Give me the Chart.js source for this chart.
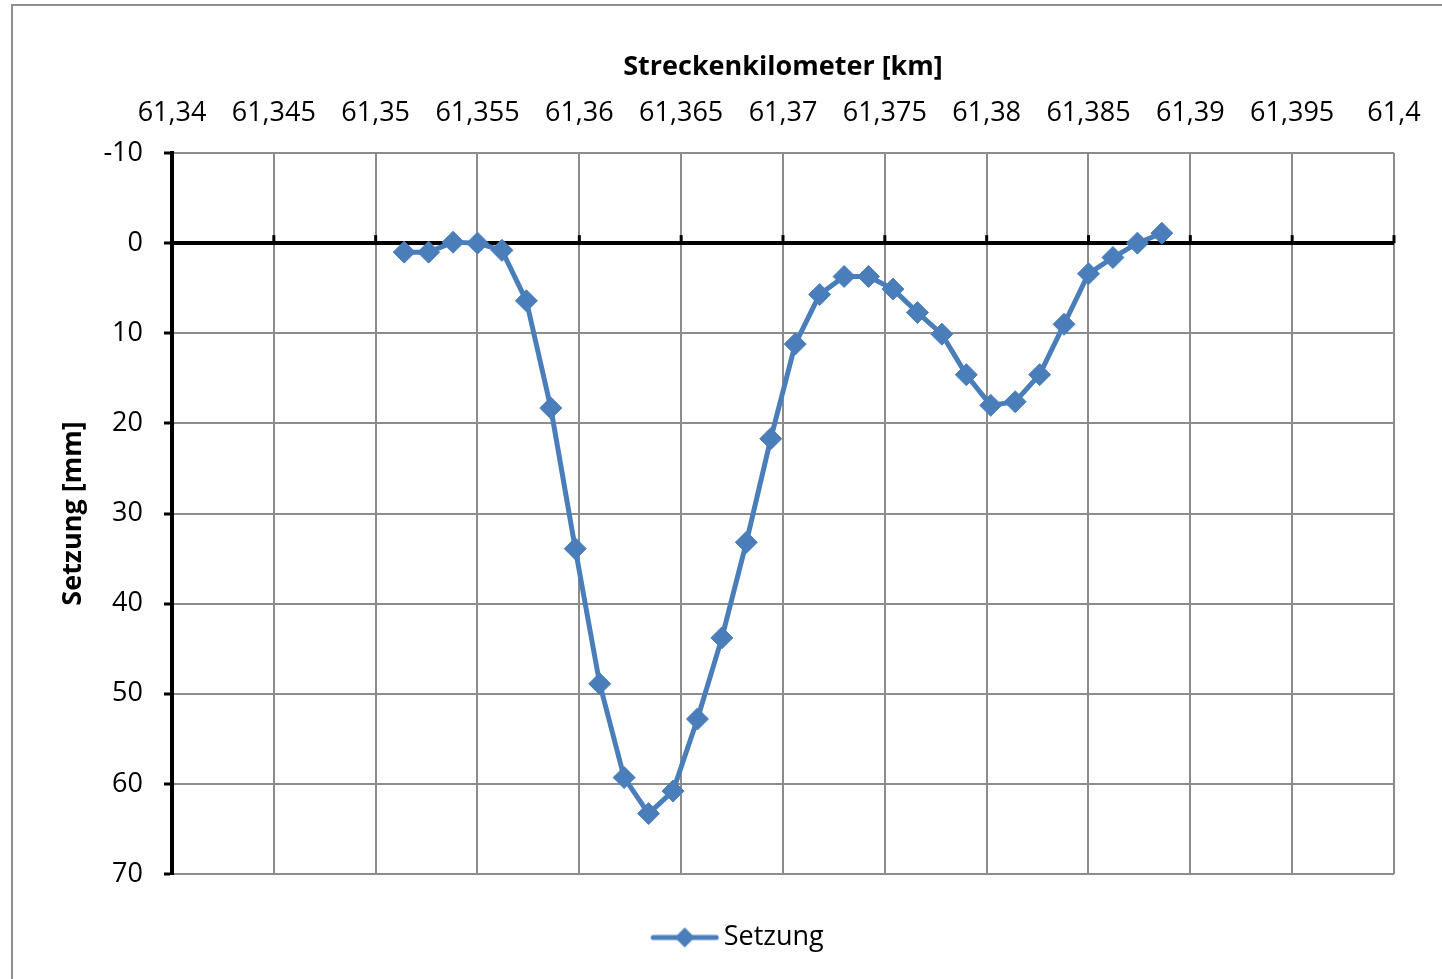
<!DOCTYPE html>
<html>
<head>
<meta charset="utf-8">
<script src="https://cdn.jsdelivr.net/npm/chart.js@4/dist/chart.umd.min.js"></script>
<style>
  html, body { margin: 0; padding: 0; background: #fff; overflow: hidden; }
  #rahmen { position: absolute; left: 11px; top: 4px; width: 1600px; height: 1200px; border: 2px solid #8e8e8e; }
  #grafik { position: absolute; left: 0; top: 0; }
</style>
</head>
<body>
<div id="rahmen"></div>
<canvas id="grafik" width="1442" height="961"></canvas>
<script>
const KILOMETER = [61.3514, 61.3526, 61.3538, 61.355, 61.3562, 61.3574, 61.3586, 61.3598,
  61.361, 61.3622, 61.3634, 61.3646, 61.3658, 61.367, 61.3682, 61.3694,
  61.3706, 61.3718, 61.373, 61.3742, 61.3754, 61.3766, 61.3778, 61.379,
  61.3802, 61.3814, 61.3826, 61.3838, 61.385, 61.3862, 61.3874, 61.3886];
const SETZUNG = [1.0, 1.0, -0.1, 0.0, 0.8, 6.4, 18.3, 33.9,
  48.9, 59.3, 63.3, 60.8, 52.8, 43.8, 33.2, 21.7,
  11.2, 5.7, 3.7, 3.7, 5.1, 7.7, 10.1, 14.6,
  18.0, 17.6, 14.6, 9.0, 3.4, 1.6, 0.0, -1.1];
const X_BEREICH = [61.34, 61.4];
const Y_BEREICH = [-10, 70];

const FARBE = '#4a7ebb';
const GITTER = '#8c8c8c';
const SCHRIFT = '"Open Sans", sans-serif';

// Legendensymbol: Linie mit Raute (breiter als die Box, damit der Text naeher rueckt)
function legendenSymbol() {
  const c = document.createElement('canvas');
  c.width = 150; c.height = 24;
  const g = c.getContext('2d');
  g.strokeStyle = FARBE;
  g.lineWidth = 5;
  g.lineCap = 'round';
  g.beginPath();
  g.moveTo(82, 12); g.lineTo(145, 12);
  g.stroke();
  g.fillStyle = FARBE;
  g.beginPath();
  g.moveTo(113.5, 2); g.lineTo(123.5, 12); g.lineTo(113.5, 22); g.lineTo(103.5, 12);
  g.closePath();
  g.fill();
  return c;
}

// Teilstriche der x-Achse auf der Nulllinie
const nullTicks = {
  id: 'nullTicks',
  beforeDatasetsDraw(chart) {
    const { ctx, scales: { x, y } } = chart;
    const y0 = y.getPixelForValue(0);
    ctx.save();
    ctx.strokeStyle = '#000';
    ctx.lineWidth = 3;
    x.ticks.forEach(t => {
      const px = x.getPixelForValue(t.value);
      ctx.beginPath();
      ctx.moveTo(px, y0 - 8);
      ctx.lineTo(px, y0);
      ctx.stroke();
    });
    ctx.restore();
  }
};

const punkte = KILOMETER.map((km, i) => ({ x: km, y: SETZUNG[i] }));

new Chart(document.getElementById('grafik'), {
  type: 'line',
  data: {
    datasets: [{
      label: 'Setzung',
      data: punkte,
      borderColor: FARBE,
      backgroundColor: FARBE,
      borderWidth: 5,
      tension: 0,
      pointStyle: 'rectRot',
      pointRadius: 11,
      pointBorderWidth: 1,
      pointBackgroundColor: FARBE,
      pointBorderColor: FARBE
    }]
  },
  options: {
    responsive: false,
    animation: false,
    layout: { padding: { left: 12, right: 48, top: 5, bottom: 0 } },
    scales: {
      x: {
        type: 'linear',
        position: 'top',
        min: X_BEREICH[0],
        max: X_BEREICH[1],
        afterFit: s => { s.height = 148; s.paddingRight = 30; },
        ticks: {
          stepSize: 0.005,
          autoSkip: false,
          maxRotation: 0,
          padding: 23,
          color: '#000',
          font: { family: SCHRIFT, size: 27 },
          callback: v => String(Math.round(v * 1000) / 1000).replace('.', ',')
        },
        grid: { color: GITTER, lineWidth: 2, drawTicks: false },
        border: { display: false },
        title: {
          display: true,
          text: 'Streckenkilometer [km]',
          color: '#000',
          font: { family: SCHRIFT, size: 27, weight: 'bold' },
          padding: { top: 46, bottom: 0 }
        }
      },
      y: {
        reverse: true,
        min: Y_BEREICH[0],
        max: Y_BEREICH[1],
        afterFit: s => { s.width = 160; },
        ticks: {
          stepSize: 10,
          padding: 21,
          color: '#000',
          font: { family: SCHRIFT, size: 27 }
        },
        grid: {
          color: c => c.tick && c.tick.value === 0 ? '#000' : GITTER,
          lineWidth: c => c.tick && c.tick.value === 0 ? 4 : 2,
          tickColor: '#000',
          tickLength: 8,
          tickWidth: 3
        },
        border: { color: '#000', width: 4 },
        title: {
          display: true,
          text: 'Setzung [mm]',
          color: '#000',
          font: { family: SCHRIFT, size: 27, weight: 'bold' },
          padding: { top: 45, bottom: 0 }
        }
      }
    },
    plugins: {
      legend: {
        position: 'bottom',
        labels: {
          usePointStyle: true,
          pointStyle: legendenSymbol(),
          pointStyleWidth: 128,
          padding: 50,
          color: '#000',
          font: { family: SCHRIFT, size: 27 }
        }
      },
      tooltip: { enabled: false }
    }
  },
  plugins: [nullTicks]
});
</script>
</body>
</html>
